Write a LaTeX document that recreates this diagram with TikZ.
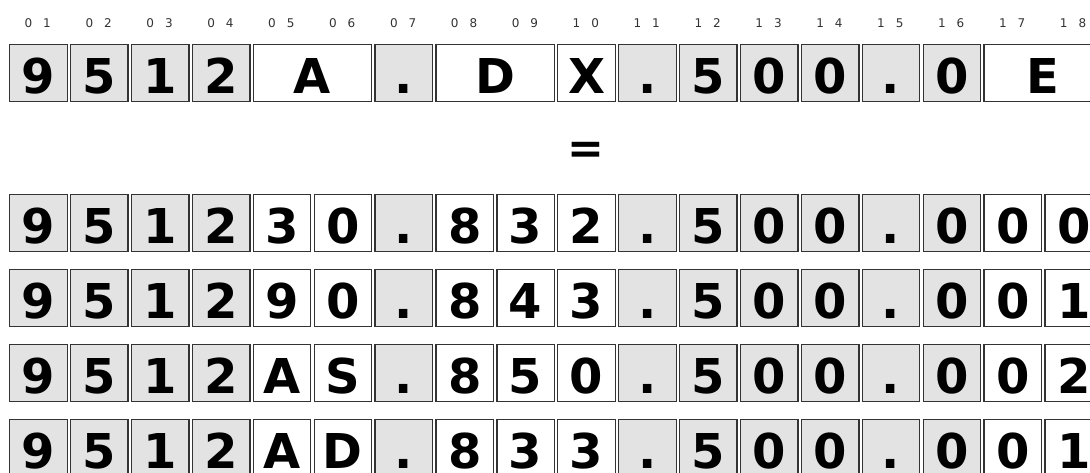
\documentclass[tikz,border=0pt]{standalone}
\usepackage{fontspec}
\setmainfont{DejaVu Sans}
\definecolor{cellgray}{HTML}{E3E3E3}
\definecolor{edgegray}{HTML}{333333}

\begin{document}
\begin{tikzpicture}[x=1pt,y=-1pt,
  cell/.style={draw=edgegray,line width=1.3pt,anchor=north west,minimum height=57pt,
    inner sep=0pt,text height=41pt,text depth=0pt,font=\fontsize{48}{48}\selectfont\bfseries},
  gcell/.style={cell,fill=cellgray,minimum width=57.5pt},
  wcell/.style={cell,fill=white,minimum width=57.5pt},
  wwide/.style={cell,fill=white,minimum width=118.4pt},
  colnum/.style={font=\fontsize{12}{12}\selectfont,text=edgegray}]
\useasboundingbox (0,0) rectangle (1090,472);
% column numbers
\foreach \c in {1,...,18}{
  \pgfmathtruncatemacro\tens{int(\c/10)}
  \pgfmathtruncatemacro\ones{mod(\c,10)}
  \node[colnum] (n\c) at (37.75+\c*60.9-60.9,23) {\tens\hspace{11pt}\ones};
}
% code with placeholders
\node[gcell] (k1) at (9,44) {9};
\node[gcell] (k2) at (69.9,44) {5};
\node[gcell] (k3) at (130.8,44) {1};
\node[gcell] (k4) at (191.7,44) {2};
\node[wwide] (k5) at (252.6,44) {A};
\node[gcell] (k7) at (374.4,44) {.};
\node[wwide] (k8) at (435.3,44) {D};
\node[wcell] (k10) at (557.1,44) {X};
\node[gcell] (k11) at (618,44) {.};
\node[gcell] (k12) at (678.9,44) {5};
\node[gcell] (k13) at (739.8,44) {0};
\node[gcell] (k14) at (800.7,44) {0};
\node[gcell] (k15) at (861.6,44) {.};
\node[gcell] (k16) at (922.5,44) {0};
\node[wwide] (k17) at (983.4,44) {E};
\node[font=\fontsize{44}{44}\selectfont\bfseries] (eq) at (586,153) {=};
% resolved codes
\foreach \c/\st/\ra/\rb/\rc/\rd in {
  1/gcell/9/9/9/9, 2/gcell/5/5/5/5, 3/gcell/1/1/1/1, 4/gcell/2/2/2/2,
  5/wcell/3/9/A/A, 6/wcell/0/0/S/D, 7/gcell/./././., 8/wcell/8/8/8/8,
  9/wcell/3/4/5/3, 10/wcell/2/3/0/3, 11/gcell/./././., 12/gcell/5/5/5/5,
  13/gcell/0/0/0/0, 14/gcell/0/0/0/0, 15/gcell/./././., 16/gcell/0/0/0/0,
  17/wcell/0/0/0/0, 18/wcell/0/1/2/1}{
  \node[\st] (a\c) at (9+\c*60.9-60.9,194) {\ra};
  \node[\st] (b\c) at (9+\c*60.9-60.9,269) {\rb};
  \node[\st] (c\c) at (9+\c*60.9-60.9,344) {\rc};
  \node[\st] (d\c) at (9+\c*60.9-60.9,419) {\rd};
}
\end{tikzpicture}
\end{document}
